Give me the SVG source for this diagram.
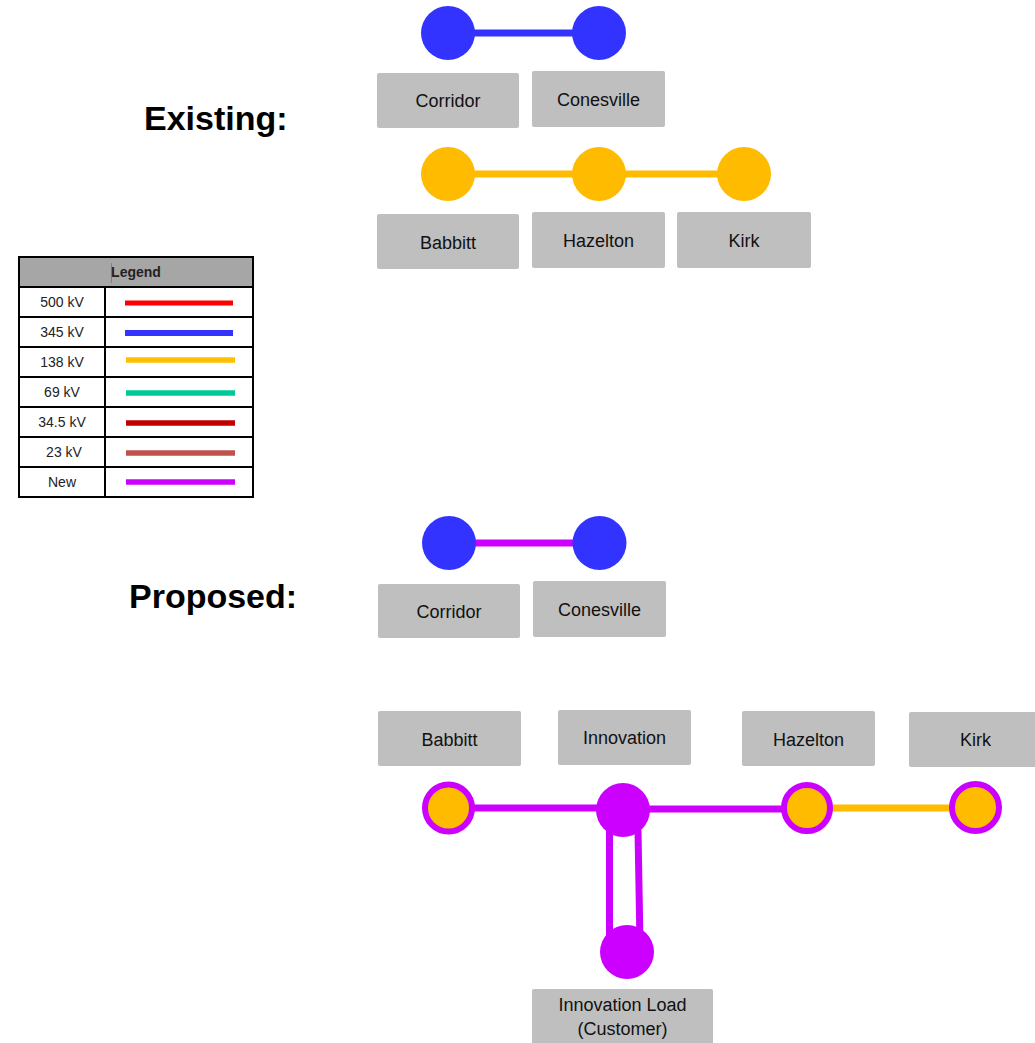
<svg xmlns="http://www.w3.org/2000/svg" width="1035" height="1043" viewBox="0 0 1035 1043">
<style>
.box{fill:#bfbfbf;}
.lbl{font-family:"Liberation Sans",Arial,sans-serif;font-size:18px;fill:#111;text-anchor:middle;}
.title{font-family:"Liberation Sans",Arial,sans-serif;font-size:34px;font-weight:bold;fill:#000;}
.leg{font-family:"Liberation Sans",Arial,sans-serif;font-size:14px;fill:#222;text-anchor:middle;}
.grid{stroke:#000;stroke-width:2;fill:none;}
.blue{fill:#3333ff;}
.orange{fill:#ffbb00;}
.purple{fill:#cc00ff;}
.ring{fill:#ffbb00;stroke:#cc00ff;stroke-width:6;}
.wb{stroke:#3333ff;stroke-width:7;}
.wo{stroke:#ffbb00;stroke-width:7;}
.wp{stroke:#cc00ff;stroke-width:7;}
</style>
<rect width="1035" height="1043" fill="#fff"/>

<text class="title" x="144" y="130">Existing:</text>
<text class="title" x="129" y="608">Proposed:</text>

<g id="legend">
<rect x="19" y="257" width="234" height="30" fill="#a6a6a6"/>
<rect class="grid" x="19" y="257" width="234" height="240"/>
<line class="grid" x1="19" y1="287" x2="253" y2="287"/>
<line class="grid" x1="19" y1="317" x2="253" y2="317"/>
<line class="grid" x1="19" y1="347" x2="253" y2="347"/>
<line class="grid" x1="19" y1="377" x2="253" y2="377"/>
<line class="grid" x1="19" y1="407" x2="253" y2="407"/>
<line class="grid" x1="19" y1="437" x2="253" y2="437"/>
<line class="grid" x1="19" y1="467" x2="253" y2="467"/>
<line class="grid" x1="105" y1="287" x2="105" y2="497"/>
<line x1="111.5" y1="263" x2="111.5" y2="283" stroke="#777" stroke-width="0.8"/>
<text class="leg" x="136" y="277" font-weight="bold" fill="#111">Legend</text>
<text class="leg" x="62" y="307">500 kV</text>
<text class="leg" x="62" y="337">345 kV</text>
<text class="leg" x="62" y="367">138 kV</text>
<text class="leg" x="62" y="397">69 kV</text>
<text class="leg" x="62" y="427">34.5 kV</text>
<text class="leg" x="64" y="457">23 kV</text>
<text class="leg" x="62" y="487">New</text>
<line x1="125" y1="303" x2="233" y2="303" stroke="#ff0000" stroke-width="5"/>
<line x1="125" y1="333" x2="233" y2="333" stroke="#3333ff" stroke-width="6"/>
<line x1="126" y1="360" x2="235" y2="360" stroke="#ffc000" stroke-width="5.5"/>
<line x1="126" y1="393" x2="235" y2="393" stroke="#00c896" stroke-width="5.5"/>
<line x1="126" y1="423" x2="235" y2="423" stroke="#c00000" stroke-width="5.5"/>
<line x1="126" y1="453" x2="235" y2="453" stroke="#c0504d" stroke-width="5.5"/>
<line x1="126" y1="482" x2="235" y2="482" stroke="#cc00ff" stroke-width="5.5"/>
</g>

<g id="connectors">
<line class="wb" x1="448" y1="33" x2="599" y2="33"/>
<line class="wo" x1="448" y1="174" x2="744" y2="174"/>
<line class="wp" x1="449" y1="543" x2="599" y2="543"/>
<line class="wp" x1="449" y1="808" x2="623" y2="808"/>
<line class="wp" x1="623" y1="809" x2="806" y2="809"/>
<line class="wo" x1="806" y1="808" x2="975" y2="808"/>
<line class="wp" x1="609.5" y1="830" x2="609.5" y2="945"/>
<line class="wp" x1="638" y1="830" x2="640" y2="945"/>
</g>

<g id="ex-corridor">
<circle class="blue" cx="448" cy="33" r="27"/>
<rect class="box" x="377" y="73" width="142" height="55" rx="2"/>
<text class="lbl" x="448" y="107">Corridor</text>
</g>
<g id="ex-conesville">
<circle class="blue" cx="599" cy="33" r="27"/>
<rect class="box" x="532" y="71" width="133" height="56" rx="2"/>
<text class="lbl" x="598.5" y="105.5">Conesville</text>
</g>
<g id="ex-babbitt">
<circle class="orange" cx="448" cy="174" r="27"/>
<rect class="box" x="377" y="214" width="142" height="55" rx="2"/>
<text class="lbl" x="448" y="248.5">Babbitt</text>
</g>
<g id="ex-hazelton">
<circle class="orange" cx="599" cy="174" r="27"/>
<rect class="box" x="532" y="212" width="133" height="56" rx="2"/>
<text class="lbl" x="598.5" y="247">Hazelton</text>
</g>
<g id="ex-kirk">
<circle class="orange" cx="744" cy="174" r="27"/>
<rect class="box" x="677" y="212" width="134" height="56" rx="2"/>
<text class="lbl" x="744" y="247">Kirk</text>
</g>

<g id="pr-corridor">
<circle class="blue" cx="449" cy="543" r="27"/>
<rect class="box" x="378" y="584" width="142" height="54" rx="2"/>
<text class="lbl" x="449" y="617.5">Corridor</text>
</g>
<g id="pr-conesville">
<circle class="blue" cx="599.5" cy="543" r="27"/>
<rect class="box" x="533" y="581" width="133" height="56" rx="2"/>
<text class="lbl" x="599.5" y="615.5">Conesville</text>
</g>

<g id="pr-babbitt">
<rect class="box" x="378" y="711" width="143" height="55" rx="2"/>
<text class="lbl" x="449.5" y="746">Babbitt</text>
<circle class="ring" cx="448.5" cy="808" r="23.5"/>
</g>
<g id="pr-innovation">
<rect class="box" x="558" y="710" width="133" height="55" rx="2"/>
<text class="lbl" x="624.5" y="744">Innovation</text>
<circle class="purple" cx="623" cy="810" r="27"/>
</g>
<g id="pr-hazelton">
<rect class="box" x="742" y="711" width="133" height="55" rx="2"/>
<text class="lbl" x="808.5" y="746">Hazelton</text>
<circle class="ring" cx="807" cy="808" r="23"/>
</g>
<g id="pr-kirk">
<rect class="box" x="909" y="712" width="130" height="55" rx="2"/>
<text class="lbl" x="975.5" y="746">Kirk</text>
<circle class="ring" cx="975.5" cy="807.5" r="23.5"/>
</g>
<g id="pr-load">
<circle class="purple" cx="627" cy="952" r="27"/>
<rect class="box" x="532" y="989" width="181" height="60" rx="2"/>
<text class="lbl" x="622.5" y="1011">Innovation Load</text>
<text class="lbl" x="622.5" y="1035">(Customer)</text>
</g>
</svg>
